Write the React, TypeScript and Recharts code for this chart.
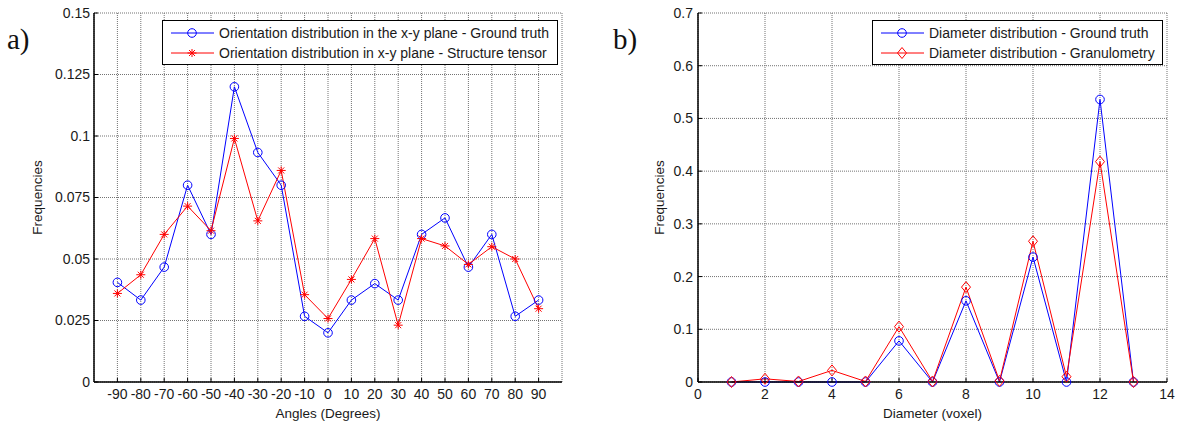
import React from "react";
import { CartesianGrid, Label, Legend, Line, LineChart, XAxis, YAxis } from "recharts";

// a) orientation distribution
const angles = [-90, -80, -70, -60, -50, -40, -30, -20, -10, 0, 10, 20, 30, 40, 50, 60, 70, 80, 90];
const orientationGroundTruth = [
  0.0405, 0.0333, 0.0467, 0.08, 0.06, 0.12, 0.0933, 0.08, 0.0267, 0.02,
  0.0333, 0.04, 0.0333, 0.06, 0.0667, 0.0467, 0.06, 0.0267, 0.0333,
];
const orientationStructureTensor = [
  0.036, 0.0436, 0.06, 0.0715, 0.0615, 0.099, 0.0655, 0.086, 0.0355, 0.0258,
  0.0417, 0.0583, 0.0231, 0.0583, 0.0553, 0.0478, 0.055, 0.05, 0.0298,
];
const angleTicks = angles;
const orientationFreqTicks = [0, 0.025, 0.05, 0.075, 0.1, 0.125, 0.15];
const orientationLegend = [
  "Orientation distribution in the x-y plane - Ground truth",
  "Orientation distribution in x-y plane - Structure tensor",
];

// b) diameter distribution
const diameters = [1, 2, 3, 4, 5, 6, 7, 8, 9, 10, 11, 12, 13];
const diameterGroundTruth = [0, 0, 0, 0, 0, 0.078, 0, 0.154, 0, 0.237, 0, 0.536, 0];
const diameterGranulometry = [0, 0.006, 0.001, 0.022, 0.001, 0.105, 0.001, 0.18, 0.002, 0.267, 0.01, 0.418, 0];
const diameterTicks = [0, 2, 4, 6, 8, 10, 12, 14];
const diameterFreqTicks = [0, 0.1, 0.2, 0.3, 0.4, 0.5, 0.6, 0.7];
const diameterLegend = [
  "Diameter distribution - Ground truth",
  "Diameter distribution - Granulometry",
];

const FONT = "'Liberation Sans', Arial, sans-serif";
const BLUE = "#0000ff";
const RED = "#ff0000";
const INK = "#1a1a1a";
const tickStyle = { fontSize: 14, fill: INK, fontFamily: FONT };
const blank = () => "";

function CircleDot({ cx, cy }: { cx?: number; cy?: number }) {
  if (cx == null || cy == null) return null;
  return <circle cx={cx} cy={cy} r={4.3} fill="none" stroke={BLUE} strokeWidth={1} />;
}

function StarDot({ cx, cy }: { cx?: number; cy?: number }) {
  if (cx == null || cy == null) return null;
  return (
    <g stroke={RED} strokeWidth={1}>
      <line x1={cx - 4.5} y1={cy} x2={cx + 4.5} y2={cy} />
      <line x1={cx} y1={cy - 4} x2={cx} y2={cy + 4} />
      <line x1={cx - 3} y1={cy - 3} x2={cx + 3} y2={cy + 3} />
      <line x1={cx - 3} y1={cy + 3} x2={cx + 3} y2={cy - 3} />
    </g>
  );
}

function DiamondDot({ cx, cy }: { cx?: number; cy?: number }) {
  if (cx == null || cy == null) return null;
  return (
    <polygon
      points={`${cx},${cy - 5.5} ${cx + 4.5},${cy} ${cx},${cy + 5.5} ${cx - 4.5},${cy}`}
      fill="none"
      stroke={RED}
      strokeWidth={1}
    />
  );
}

function VerticalLabel({ viewBox, value, dx }: any) {
  const cx = viewBox.x + dx;
  const cy = viewBox.y + viewBox.height / 2;
  return (
    <text
      x={cx}
      y={cy}
      transform={`rotate(-90 ${cx} ${cy})`}
      textAnchor="middle"
      dominantBaseline="central"
      fontSize={13.5}
      fontFamily={FONT}
      fill={INK}
    >
      {value}
    </text>
  );
}

function LegendBox({
  labels,
  markers,
  width,
}: {
  labels: string[];
  markers: React.ReactNode[];
  width: number;
}) {
  return (
    <div
      style={{
        width,
        height: 45,
        boxSizing: "border-box",
        border: "1.5px solid #000",
        background: "#fff",
        fontFamily: FONT,
        fontSize: 14,
        color: INK,
        paddingTop: 2,
      }}
    >
      {labels.map((label, i) => (
        <div key={label} style={{ display: "flex", alignItems: "center", height: 20 }}>
          <svg width={56} height={20} style={{ flex: "none" }}>
            <line x1={8} y1={10} x2={51} y2={10} stroke={i === 0 ? BLUE : RED} strokeWidth={1} />
            {markers[i]}
          </svg>
          <span style={{ whiteSpace: "nowrap" }}>{label}</span>
        </div>
      ))}
    </div>
  );
}

const orientationRows = angles.map((angle, i) => ({
  angle,
  groundTruth: orientationGroundTruth[i],
  structureTensor: orientationStructureTensor[i],
}));

const diameterRows = diameters.map((d, i) => ({
  d,
  groundTruth: diameterGroundTruth[i],
  granulometry: diameterGranulometry[i],
}));

const axisLine = { stroke: "#000", strokeWidth: 1.5 };
const tickLine = { stroke: "#000", strokeWidth: 1 };
const gridColor = "#737373";

function OrientationChart() {
  return (
    <LineChart
      width={600}
      height={423}
      data={orientationRows}
      margin={{ top: 13, right: 38, bottom: 0, left: 0 }}
    >
      <CartesianGrid stroke={gridColor} strokeDasharray="1 1" />
      <XAxis
        dataKey="angle"
        type="number"
        domain={[-100, 100]}
        ticks={angleTicks}
        interval={0}
        height={41}
        tick={tickStyle}
        tickSize={-4}
        tickMargin={11}
        axisLine={axisLine}
        tickLine={tickLine}
      >
        <Label value="Angles (Degrees)" position="insideBottom" offset={5} fontSize={13.5} fontFamily={FONT} fill={INK} />
      </XAxis>
      <XAxis
        xAxisId="top"
        orientation="top"
        type="number"
        domain={[-100, 100]}
        ticks={angleTicks}
        interval={0}
        height={0}
        tickFormatter={blank}
        tickSize={-4}
        axisLine={axisLine}
        tickLine={tickLine}
      />
      <YAxis
        type="number"
        domain={[0, 0.15]}
        ticks={orientationFreqTicks}
        interval={0}
        width={94}
        tick={tickStyle}
        tickSize={-4}
        tickMargin={8}
        axisLine={axisLine}
        tickLine={tickLine}
      >
        <Label content={<VerticalLabel dx={37} />} value="Frequencies" />
      </YAxis>
      <YAxis
        yAxisId="right"
        orientation="right"
        type="number"
        domain={[0, 0.15]}
        ticks={orientationFreqTicks}
        interval={0}
        width={0}
        tickFormatter={blank}
        tickSize={-4}
        axisLine={axisLine}
        tickLine={tickLine}
      />
      <Legend
        layout="horizontal"
        verticalAlign="middle"
        align="center"
        wrapperStyle={{ left: 162, top: 20, width: 396, height: 45 }}
        content={() => (
          <LegendBox
            labels={orientationLegend}
            width={396}
            markers={[<CircleDot key="c" cx={29} cy={10} />, <StarDot key="s" cx={29} cy={10} />]}
          />
        )}
      />
      <Line
        dataKey="groundTruth"
        type="linear"
        stroke={BLUE}
        strokeWidth={1}
        dot={<CircleDot />}
        activeDot={false}
        isAnimationActive={false}
      />
      <Line
        dataKey="structureTensor"
        type="linear"
        stroke={RED}
        strokeWidth={1}
        dot={<StarDot />}
        activeDot={false}
        isAnimationActive={false}
      />
    </LineChart>
  );
}

function DiameterChart() {
  return (
    <LineChart
      width={581}
      height={423}
      data={diameterRows}
      margin={{ top: 13, right: 14, bottom: 0, left: 0 }}
    >
      <CartesianGrid stroke={gridColor} strokeDasharray="1 1" />
      <XAxis
        dataKey="d"
        type="number"
        domain={[0, 14]}
        ticks={diameterTicks}
        interval={0}
        height={41}
        tick={tickStyle}
        tickSize={-4}
        tickMargin={11}
        axisLine={axisLine}
        tickLine={tickLine}
      >
        <Label value="Diameter (voxel)" position="insideBottom" offset={5} fontSize={13.5} fontFamily={FONT} fill={INK} />
      </XAxis>
      <XAxis
        xAxisId="top"
        orientation="top"
        type="number"
        domain={[0, 14]}
        ticks={diameterTicks}
        interval={0}
        height={0}
        tickFormatter={blank}
        tickSize={-4}
        axisLine={axisLine}
        tickLine={tickLine}
      />
      <YAxis
        type="number"
        domain={[0, 0.7]}
        ticks={diameterFreqTicks}
        interval={0}
        width={98}
        tick={tickStyle}
        tickSize={-4}
        tickMargin={9}
        axisLine={axisLine}
        tickLine={tickLine}
      >
        <Label content={<VerticalLabel dx={59} />} value="Frequencies" />
      </YAxis>
      <YAxis
        yAxisId="right"
        orientation="right"
        type="number"
        domain={[0, 0.7]}
        ticks={diameterFreqTicks}
        interval={0}
        width={0}
        tickFormatter={blank}
        tickSize={-4}
        axisLine={axisLine}
        tickLine={tickLine}
      />
      <Legend
        layout="horizontal"
        verticalAlign="middle"
        align="center"
        wrapperStyle={{ left: 272, top: 20, width: 291, height: 45 }}
        content={() => (
          <LegendBox
            labels={diameterLegend}
            width={291}
            markers={[<CircleDot key="c" cx={29} cy={10} />, <DiamondDot key="d" cx={29} cy={10} />]}
          />
        )}
      />
      <Line
        dataKey="groundTruth"
        type="linear"
        stroke={BLUE}
        strokeWidth={1}
        dot={<CircleDot />}
        activeDot={false}
        isAnimationActive={false}
      />
      <Line
        dataKey="granulometry"
        type="linear"
        stroke={RED}
        strokeWidth={1}
        dot={<DiamondDot />}
        activeDot={false}
        isAnimationActive={false}
      />
    </LineChart>
  );
}

const panelLetter: React.CSSProperties = {
  position: "absolute",
  fontFamily: "'Liberation Serif', 'Times New Roman', serif",
  fontSize: 29,
  lineHeight: "29px",
  color: "#111",
};

export default function App() {
  return (
    <div style={{ position: "absolute", left: 0, top: 0, width: 1181, height: 423, background: "#fff" }}>
      <div style={{ position: "absolute", left: 0, top: 0 }}>
        <OrientationChart />
      </div>
      <div style={{ position: "absolute", left: 600, top: 0 }}>
        <DiameterChart />
      </div>
      <div style={{ ...panelLetter, left: 7, top: 25 }}>a)</div>
      <div style={{ ...panelLetter, left: 613, top: 25 }}>b)</div>
    </div>
  );
}
